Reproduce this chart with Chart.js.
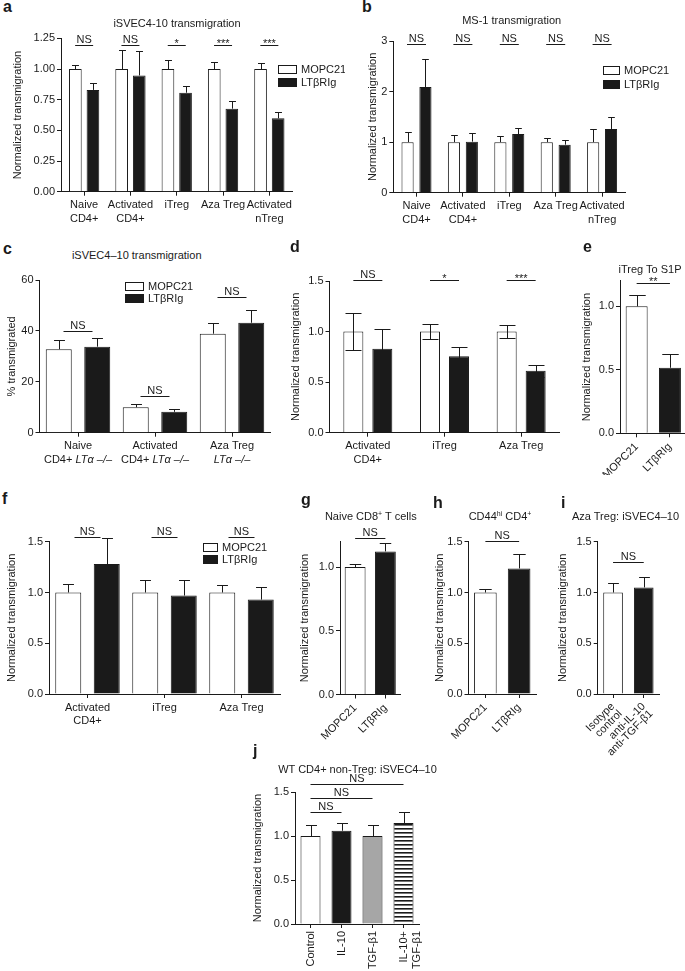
<!DOCTYPE html>
<html>
<head>
<meta charset="utf-8">
<script src="https://cdn.jsdelivr.net/npm/chart.js@4.4.1/dist/chart.umd.min.js"></script>
<style>
  body { margin: 0; width: 685px; height: 971px; overflow: hidden; background: #fff; position: relative;
         font-family: "Liberation Sans", Arial, Helvetica, sans-serif; color: #1a1a1a; }
  .txt { position: absolute; white-space: nowrap; line-height: 1; }
  sup { font-size: 7px; vertical-align: 4px; line-height: 0; }
</style>
</head>
<body>
<script>
    // ---- data ----
    // a: iSVEC4-10 transmigration
    const catsA = [['Naive', 'CD4+'], ['Activated', 'CD4+'], 'iTreg', 'Aza Treg', ['Activated', 'nTreg']];
    const mopcA = [1, 1, 1, 1, 1];
    const mopcErrA = [0.033, 0.155, 0.07, 0.054, 0.052];
    const ltbrA = [0.83, 0.948, 0.807, 0.677, 0.598];
    const ltbrErrA = [0.053, 0.2, 0.057, 0.059, 0.051];
    const sigA = ['NS', 'NS', '*', '***', '***'];
    const ticksA = [0, 0.25, 0.5, 0.75, 1, 1.25];

    // b: MS-1 transmigration
    const catsB = catsA;
    const mopcB = [1, 1, 1, 1, 1];
    const mopcErrB = [0.2, 0.14, 0.12, 0.09, 0.25];
    const ltbrB = [2.09, 1.01, 1.16, 0.95, 1.26];
    const ltbrErrB = [0.56, 0.17, 0.12, 0.1, 0.23];
    const sigB = ['NS', 'NS', 'NS', 'NS', 'NS'];
    const ticksB = [0, 1, 2, 3];

    // c: % transmigrated, LTa -/- cells
    const catsC = [['Naive', 'CD4+ LTα –/–'], ['Activated', 'CD4+ LTα –/–'], ['Aza Treg', 'LTα –/–']];
    const mopcC = [32.8, 10, 38.9];
    const mopcErrC = [3.6, 1.3, 4.1];
    const ltbrC = [33.8, 8.2, 43.2];
    const ltbrErrC = [3.3, 1.0, 5.0];
    const sigC = ['NS', 'NS', 'NS'];
    const ticksC = [0, 20, 40, 60];

    // d
    const catsD = [['Activated', 'CD4+'], 'iTreg', 'Aza Treg'];
    const mopcD = [1, 1, 1];
    const mopcErrD = [0.185, 0.07, 0.06];
    const ltbrD = [0.83, 0.757, 0.612];
    const ltbrErrD = [0.197, 0.088, 0.06];
    const sigD = ['NS', '*', '***'];
    const ticksD = [0, 0.5, 1, 1.5];

    // e: iTreg to S1P
    const catsE = ['MOPC21', 'LTβRIg'];
    const valsE = [1, 0.516];
    const errE = [0.086, 0.112];
    const sigE = '**';
    const ticksE = [0, 0.5, 1];

    // f
    const catsF = [['Activated', 'CD4+'], 'iTreg', 'Aza Treg'];
    const mopcF = [1, 1, 1];
    const mopcErrF = [0.08, 0.12, 0.07];
    const ltbrF = [1.28, 0.97, 0.93];
    const ltbrErrF = [0.26, 0.15, 0.12];
    const sigF = ['NS', 'NS', 'NS'];
    const ticksF = [0, 0.5, 1, 1.5];

    // g: naive CD8+ T cells
    const catsG = ['MOPC21', 'LTβRIg'];
    const valsG = [1, 1.123];
    const errG = [0.024, 0.067];
    const ticksG = [0, 0.5, 1];

    // h: CD44hi CD4+
    const catsH = ['MOPC21', 'LTβRIg'];
    const valsH = [1, 1.237];
    const errH = [0.03, 0.141];
    const ticksH = [0, 0.5, 1, 1.5];

    // i: Aza Treg, blocking antibodies
    const catsI = [['Isotype', 'control'], ['anti-IL-10', 'anti-TGF-β1']];
    const valsI = [1, 1.05];
    const errI = [0.09, 0.1];
    const ticksI = [0, 0.5, 1, 1.5];

    // j: WT CD4+ non-Treg
    const catsJ = ['Control', 'IL-10', 'TGF-β1', ['IL-10+', 'TGF-β1']];
    const valsJ = [1, 1.06, 1.0, 1.148];
    const errJ = [0.125, 0.088, 0.13, 0.129];
    const sigJ = [[0, 1, 'NS'], [0, 2, 'NS'], [0, 3, 'NS']];
    const ticksJ = [0, 0.5, 1, 1.5];

    // ---- style ----
    const INK = '#1a1a1a';
    const FAM = '"Liberation Sans", Arial, Helvetica, sans-serif';
    const FONT = { family: FAM, size: 11, lineHeight: 1.2 };
    Chart.defaults.font.family = FAM;
    Chart.defaults.color = INK;

    // error whiskers drawn from the y scale
    const errorBars = {
        id: 'errorBars',
        afterDatasetsDraw(chart, args, opts) {
            const ctx = chart.ctx, y = chart.scales.y;
            chart.data.datasets.forEach((ds, di) => {
                if (!ds.errors) return;
                chart.getDatasetMeta(di).data.forEach((bar, i) => {
                    const v = ds.data[i], e = ds.errors[i];
                    const x = Math.round(bar.x) + 0.5;
                    const top = Math.round(y.getPixelForValue(v + e)) + 0.5;
                    const bot = opts.both ? Math.round(y.getPixelForValue(v - e)) + 0.5 : bar.y;
                    const cap = bar.width * opts.cap / 2;
                    ctx.save();
                    ctx.strokeStyle = INK;
                    ctx.lineWidth = 1;
                    ctx.beginPath();
                    ctx.moveTo(x, bot); ctx.lineTo(x, top);
                    ctx.moveTo(x - cap, top); ctx.lineTo(x + cap, top);
                    if (opts.both) { ctx.moveTo(x - cap, bot); ctx.lineTo(x + cap, bot); }
                    ctx.stroke();
                    ctx.restore();
                });
            });
        }
    };

    // significance lines + labels
    const sigBars = {
        id: 'sigBars',
        afterDraw(chart, args, opts) {
            if (!opts.items || !opts.items.length) return;
            const ctx = chart.ctx, x = chart.scales.x, y = chart.scales.y;
            ctx.save();
            ctx.strokeStyle = INK; ctx.fillStyle = INK; ctx.lineWidth = 1;
            ctx.font = '11px ' + FAM;
            ctx.textAlign = 'center'; ctx.textBaseline = 'alphabetic';
            opts.items.forEach(it => {
                const pad = it.from === it.to ? opts.half : 0;
                const x0 = x.getPixelForValue(it.from) - pad;
                const x1 = x.getPixelForValue(it.to) + pad;
                const yy = Math.round(y.getPixelForValue(it.y)) + 0.5;
                ctx.beginPath(); ctx.moveTo(x0, yy); ctx.lineTo(x1, yy); ctx.stroke();
                // asterisks sit high in the glyph box, so drop them closer to the line
                const star = it.text.indexOf('*') >= 0;
                ctx.fillText(it.text, (x0 + x1) / 2, star ? yy + 1.5 : yy - 3);
            });
            ctx.restore();
        }
    };

    // little box legend
    const boxLegend = {
        id: 'boxLegend',
        afterDraw(chart, args, opts) {
            if (opts.x === undefined) return;
            const ctx = chart.ctx;
            ctx.save();
            ctx.font = '11px ' + FAM;
            ctx.textBaseline = 'middle';
            chart.data.datasets.forEach((ds, i) => {
                const yy = Math.round(opts.y + i * opts.step);
                const xx = Math.round(opts.x);
                ctx.fillStyle = ds.backgroundColor;
                ctx.fillRect(xx, yy, opts.w, opts.h);
                ctx.strokeStyle = INK; ctx.lineWidth = 1;
                ctx.strokeRect(xx + 0.5, yy + 0.5, opts.w - 1, opts.h - 1);
                ctx.fillStyle = INK;
                ctx.fillText(ds.label, xx + opts.w + 4, yy + opts.h / 2 + 0.5);
            });
            ctx.restore();
        }
    };

    // x labels with the genotype part in italics (panel c)
    const italicTicks = {
        id: 'italicTicks',
        afterDraw(chart, args, opts) {
            if (!opts.match) return;
            const ctx = chart.ctx, x = chart.scales.x;
            const lh = 13.2;
            const re = new RegExp('(' + opts.match + ')');
            ctx.save();
            ctx.fillStyle = INK;
            ctx.textBaseline = 'middle';
            ctx.textAlign = 'left';
            chart.data.labels.forEach((lab, i) => {
                const lines = Array.isArray(lab) ? lab : [lab];
                const cx = x.getPixelForValue(i);
                lines.forEach((line, k) => {
                    const parts = line.split(re).filter(p => p.length);
                    const fonts = parts.map(p => (p === opts.match ? 'italic ' : '') + '11px ' + FAM);
                    let w = 0;
                    parts.forEach((p, n) => { ctx.font = fonts[n]; w += ctx.measureText(p).width; });
                    let px = cx - w / 2;
                    const py = x.top + 4 + 3 + lh / 2 + k * lh;
                    parts.forEach((p, n) => {
                        ctx.font = fonts[n];
                        ctx.fillText(p, px, py);
                        px += ctx.measureText(p).width;
                    });
                });
            });
            ctx.restore();
        }
    };

    function stripes() {
        const c = document.createElement('canvas');
        c.width = 4; c.height = 4;
        const g = c.getContext('2d');
        g.fillStyle = '#fff'; g.fillRect(0, 0, 4, 4);
        g.fillStyle = INK; g.fillRect(0, 0, 4, 1.6);
        return g.createPattern(c, 'repeat');
    }

    function pair(a, aErr, b, bErr, cp, bp) {
        return [
            { label: 'MOPC21', data: a, errors: aErr, backgroundColor: '#ffffff', borderColor: INK, borderWidth: 1, categoryPercentage: cp, barPercentage: bp },
            { label: 'LTβRIg', data: b, errors: bErr, backgroundColor: INK, borderColor: INK, borderWidth: 1, categoryPercentage: cp, barPercentage: bp }
        ];
    }

    function single(vals, err, colors, bp) {
        return [{ label: 'vals', data: vals, errors: err, backgroundColor: colors, borderColor: INK, borderWidth: 1, categoryPercentage: 1, barPercentage: bp }];
    }

    // box = canvas in page px, area = plot area in page px
    function panel(box, area, o) {
        const cv = document.createElement('canvas');
        cv.width = box.w; cv.height = box.h;
        cv.style.cssText = `position:absolute;left:${box.l}px;top:${box.t}px`;
        document.body.appendChild(cv);
        const yW = area.l - box.l, xH = box.t + box.h - area.b;
        const rot = o.rot || 0;
        new Chart(cv, {
            type: 'bar',
            data: { labels: o.labels, datasets: o.datasets },
            options: {
                responsive: false, animation: false, events: [],
                layout: { padding: { left: 0, top: area.t - box.t, right: box.l + box.w - area.r, bottom: 0 } },
                plugins: {
                    legend: { display: false }, tooltip: { enabled: false },
                    errorBars: { cap: o.cap || 0.5, both: !!o.both },
                    sigBars: { items: o.sig || [], half: o.half || 9 },
                    boxLegend: o.legend ? { x: o.legend.x - box.l, y: o.legend.y - box.t, w: o.legend.w, h: o.legend.h, step: o.legend.step } : {},
                    italicTicks: { match: o.italic || '' }
                },
                scales: {
                    x: {
                        offset: true,
                        grid: { display: true, drawOnChartArea: false, drawTicks: true, tickLength: 4, offset: false, color: INK },
                        border: { display: true, color: INK, width: 1 },
                        ticks: { color: o.italic ? 'rgba(0,0,0,0)' : INK, font: { ...FONT, lineHeight: o.lh || 1.2 }, padding: 3, autoSkip: false, maxRotation: rot, minRotation: rot },
                        afterFit: s => { s.height = xH; }
                    },
                    y: {
                        min: 0, max: o.max,
                        afterBuildTicks: s => { s.ticks = o.ticks.map(v => ({ value: v })); },
                        grid: { display: true, drawOnChartArea: false, drawTicks: true, tickLength: 4, color: INK },
                        border: { display: true, color: INK, width: 1 },
                        ticks: { color: INK, font: FONT, padding: 2, callback: v => Number(v).toFixed(o.dec) },
                        title: { display: true, text: o.yTitle, color: INK, font: FONT, padding: { top: o.yTitleX - box.l - 6.6, bottom: 0 } },
                        afterFit: s => { s.width = yW; }
                    }
                }
            },
            plugins: [errorBars, sigBars, boxLegend, italicTicks]
        });
    }

    function txt(s, x, base, o = {}) {
        const d = document.createElement('div');
        const fs = o.size || 11;
        d.className = 'txt';
        d.innerHTML = s;
        d.style.fontSize = fs + 'px';
        d.style.top = (base - 0.85 * fs) + 'px';
        d.style.left = x + 'px';
        if (o.bold) d.style.fontWeight = 'bold';
        if (o.center) d.style.transform = 'translateX(-50%)';
        document.body.appendChild(d);
    }

    const NT = 'Normalized transmigration';
    const same = (labels, y) => labels.map((t, i) => ({ from: i, to: i, y: Array.isArray(y) ? y[i] : y, text: t }));

    // a
    panel({ l: 0, t: 28, w: 345, h: 200 }, { l: 61, t: 38.4, r: 292.5, b: 191.7 }, {
        labels: catsA, datasets: pair(mopcA, mopcErrA, ltbrA, ltbrErrA, 0.76, 0.72),
        max: 1.25, ticks: ticksA, dec: 2, yTitle: NT, yTitleX: 18,
        sig: same(sigA, 1.2), half: 9, cap: 0.55,
        legend: { x: 278, y: 65, w: 19, h: 9, step: 13.3 }
    });
    // b
    panel({ l: 345, t: 28, w: 340, h: 200 }, { l: 393.3, t: 41, r: 625.3, b: 192.7 }, {
        labels: catsB, datasets: pair(mopcB, mopcErrB, ltbrB, ltbrErrB, 0.77, 0.68),
        max: 3, ticks: ticksB, dec: 0, yTitle: NT, yTitleX: 373,
        sig: same(sigB, 2.95), half: 9.5, cap: 0.55,
        legend: { x: 603, y: 66, w: 17, h: 9, step: 13.5 }
    });
    // c
    panel({ l: 0, t: 268, w: 300, h: 205 }, { l: 39.5, t: 280, r: 270.5, b: 432.7 }, {
        labels: catsC, datasets: pair(mopcC, mopcErrC, ltbrC, ltbrErrC, 1, 0.675),
        max: 60, ticks: ticksC, dec: 0, yTitle: '% transmigrated', yTitleX: 12,
        sig: same(sigC, [40.1, 14.6, 53.4]), half: 14.5, cap: 0.42,
        legend: { x: 125, y: 282, w: 19, h: 9, step: 11.7 },
        italic: 'LTα –/–'
    });
    // d
    panel({ l: 285, t: 268, w: 290, h: 210 }, { l: 329.5, t: 281, r: 559.5, b: 432.7 }, {
        labels: catsD, datasets: pair(mopcD, mopcErrD, ltbrD, ltbrErrD, 0.756, 0.69),
        max: 1.5, ticks: ticksD, dec: 1, yTitle: NT, yTitleX: 296,
        sig: same(sigD, 1.507), half: 14.5, cap: 0.8, both: true
    });
    // e
    panel({ l: 575, t: 270, w: 120, h: 205 }, { l: 620, t: 280.9, r: 686.6, b: 433.3 }, {
        labels: catsE, datasets: single(valsE, errE, ['#ffffff', INK], 0.66),
        max: 1.2, ticks: ticksE, dec: 1, yTitle: NT, yTitleX: 587, rot: 45,
        sig: [{ from: 0, to: 1, y: 1.18, text: sigE }], cap: 0.75
    });
    // f
    panel({ l: 0, t: 518, w: 300, h: 232 }, { l: 49, t: 541.75, r: 280, b: 694 }, {
        labels: catsF, datasets: pair(mopcF, mopcErrF, ltbrF, ltbrErrF, 1, 0.675),
        max: 1.5, ticks: ticksF, dec: 1, yTitle: NT, yTitleX: 12,
        sig: same(sigF, 1.55), half: 13, cap: 0.42,
        legend: { x: 203, y: 543, w: 15, h: 9, step: 11.7 }
    });
    // g
    panel({ l: 290, t: 522, w: 125, h: 250 }, { l: 340, t: 541.6, r: 400.5, b: 694.5 }, {
        labels: catsG, datasets: single(valsG, errG, ['#ffffff', INK], 0.69),
        max: 1.2, ticks: ticksG, dec: 1, yTitle: NT, yTitleX: 305, rot: 45,
        sig: [{ from: 0, to: 1, y: 1.226, text: 'NS' }], cap: 0.55
    });
    // h
    panel({ l: 420, t: 522, w: 125, h: 250 }, { l: 468.5, t: 541.75, r: 536, b: 694 }, {
        labels: catsH, datasets: single(valsH, errH, ['#ffffff', INK], 0.67),
        max: 1.5, ticks: ticksH, dec: 1, yTitle: NT, yTitleX: 440, rot: 45,
        sig: [{ from: 0, to: 1, y: 1.51, text: 'NS' }], cap: 0.55
    });
    // i
    panel({ l: 545, t: 522, w: 150, h: 250 }, { l: 597.7, t: 541.75, r: 659.1, b: 694 }, {
        labels: catsI, datasets: single(valsI, errI, ['#ffffff', INK], 0.64),
        max: 1.5, ticks: ticksI, dec: 1, yTitle: NT, yTitleX: 563, rot: 45, lh: 0.95,
        sig: [{ from: 0, to: 1, y: 1.3, text: 'NS' }], cap: 0.55
    });
    // j
    panel({ l: 245, t: 768, w: 200, h: 203 }, { l: 295, t: 792, r: 419, b: 924 }, {
        labels: catsJ, datasets: single(valsJ, errJ, ['#ffffff', INK, '#a6a6a6', stripes()], 0.645),
        max: 1.5, ticks: ticksJ, dec: 1, yTitle: NT, yTitleX: 258, rot: 90,
        sig: sigJ.map((s, k) => ({ from: s[0], to: s[1], y: [1.276, 1.435, 1.587][k], text: s[2] })), cap: 0.55
    });

    // panel letters
    txt('a', 3, 13, { size: 16, bold: true });
    txt('b', 362, 13, { size: 16, bold: true });
    txt('c', 3, 255, { size: 16, bold: true });
    txt('d', 290, 253, { size: 16, bold: true });
    txt('e', 583, 253, { size: 16, bold: true });
    txt('f', 2, 505, { size: 16, bold: true });
    txt('g', 301, 506, { size: 16, bold: true });
    txt('h', 433, 509, { size: 16, bold: true });
    txt('i', 561, 509, { size: 16, bold: true });
    txt('j', 253, 757, { size: 16, bold: true });

    // panel titles
    txt('iSVEC4-10 transmigration', 177, 27, { center: true });
    txt('MS-1 transmigration', 511.7, 24, { center: true });
    txt('iSVEC4–10 transmigration', 136.7, 259, { center: true });
    txt('iTreg To S1P', 650, 273, { center: true });
    txt('Naive CD8<sup>+</sup> T cells', 370.8, 520, { center: true });
    txt('CD44<sup>hi</sup> CD4<sup>+</sup>', 500, 520, { center: true });
    txt('Aza Treg: iSVEC4–10', 572, 520);
    txt('WT CD4+ non-Treg: iSVEC4–10', 357.5, 773, { center: true });
</script>
</body>
</html>
